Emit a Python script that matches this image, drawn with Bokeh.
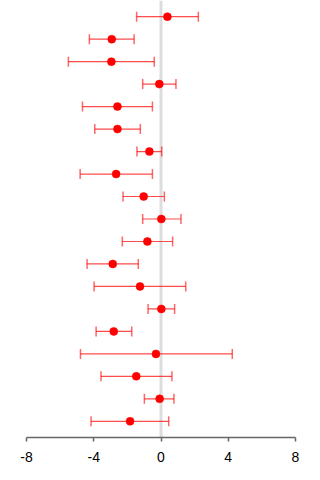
from bokeh.plotting import figure
from bokeh.models import ColumnDataSource, Range1d, Span, Whisker, TeeHead, FixedTicker
from bokeh.embed import file_html
from bokeh.resources import INLINE

# Estimates with lower / upper interval bounds, listed top to bottom
estimate = [0.38, -2.93, -2.95, -0.10, -2.59, -2.59, -0.69, -2.67, -1.03, 0.02,
            -0.81, -2.87, -1.25, 0.02, -2.81, -0.30, -1.47, -0.08, -1.84]
lower = [-1.45, -4.26, -5.51, -1.09, -4.67, -3.94, -1.43, -4.81, -2.26, -1.09,
         -2.30, -4.40, -3.98, -0.77, -3.86, -4.79, -3.57, -0.99, -4.16]
upper = [2.22, -1.60, -0.40, 0.89, -0.51, -1.23, 0.04, -0.51, 0.20, 1.19,
         0.69, -1.35, 1.47, 0.81, -1.74, 4.24, 0.65, 0.77, 0.46]
x_ticks = [-8, -4, 0, 4, 8]
x_tick_labels = ["-8", "-4", "0", "4", "8"]

rows = list(range(1, len(estimate) + 1))
src = ColumnDataSource(dict(row=rows, est=estimate, lo=lower, hi=upper))

p = figure(width=320, height=480, output_backend="svg", toolbar_location=None,
           x_range=Range1d(-8, 8), y_range=Range1d(len(rows) + 0.72, 0.28),
           min_border_left=26, min_border_right=25, min_border_top=0,
           min_border_bottom=43)
p.outline_line_color = None
p.xgrid.visible = False
p.ygrid.visible = False
p.yaxis.visible = False
p.background_fill_color = "white"
p.border_fill_color = "white"

# reference line at zero
p.add_layout(Span(location=0, dimension="height", line_color="#dddddd",
                  line_width=3, level="underlay"))

# interval bars with end caps
whisk = Whisker(source=src, base="row", lower="lo", upper="hi", dimension="width",
                line_color="#ff0000", line_alpha=0.7, line_width=1.2,
                lower_head=TeeHead(size=10, line_color="#ff0000", line_alpha=0.6, line_width=1.5),
                upper_head=TeeHead(size=10, line_color="#ff0000", line_alpha=0.6, line_width=1.5))
p.add_layout(whisk)

p.scatter(x="est", y="row", source=src, size=8, fill_color="#ff0000",
          line_color="#ff0000", line_width=0.5)

ax = p.xaxis[0]
ax.ticker = FixedTicker(ticks=x_ticks)
ax.major_label_overrides = {t: s for t, s in zip(x_ticks, x_tick_labels)}
ax.axis_line_color = "#666666"
ax.axis_line_width = 1.5
ax.major_tick_line_color = "#666666"
ax.major_tick_line_width = 1.5
ax.major_tick_out = 4
ax.major_tick_in = 0
ax.minor_tick_line_color = None
ax.major_label_standoff = 10
ax.major_label_text_font = "Liberation Sans"
ax.major_label_text_font_size = "14px"
ax.major_label_text_color = "black"

open("out.html", "w").write(file_html(p, INLINE))
